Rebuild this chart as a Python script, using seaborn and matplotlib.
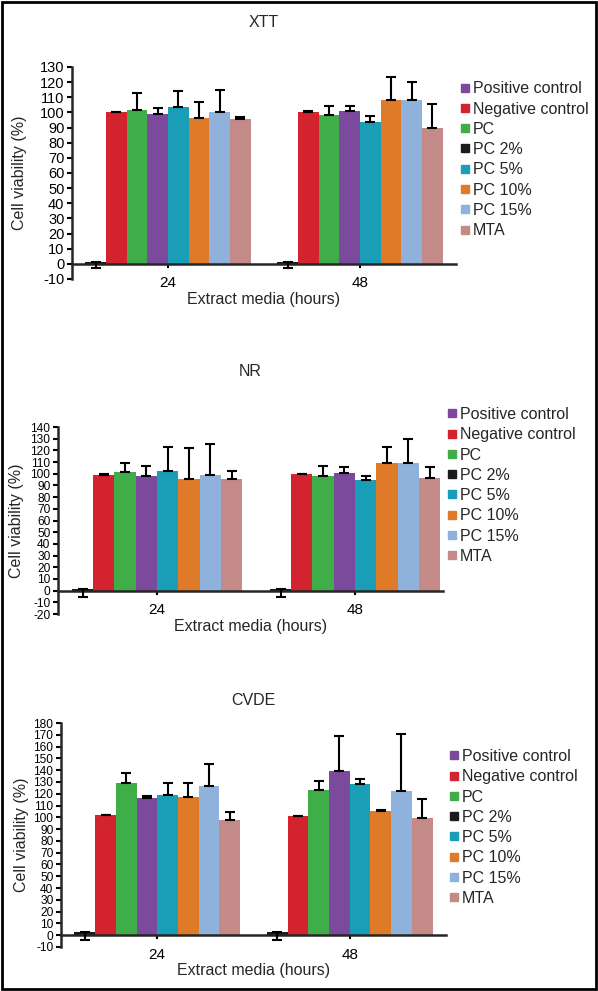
import numpy as np
import pandas as pd
import matplotlib
matplotlib.use("Agg")
import matplotlib.pyplot as plt
from matplotlib.lines import Line2D
import seaborn as sns

# --- data ---
hours = ["24", "48"]
bar_order = ["PC 2%", "Negative control", "PC", "Positive control",
             "PC 5%", "PC 10%", "PC 15%", "MTA"]
legend_order = ["Positive control", "Negative control", "PC", "PC 2%",
                "PC 5%", "PC 10%", "PC 15%", "MTA"]
bar_colors = ["#1b1b1b", "#d2232e", "#3fae49", "#7b4a9c",
              "#1a9db6", "#df7a28", "#8fb2dd", "#c48a88"]

# negative error = error bar drawn downward
xtt_24 = [1.5, 100.1, 101.4, 98.8, 103.4, 96.2, 100.1, 95.5]
xtt_48 = [1.5, 100.4, 98.4, 101.0, 93.8, 108.3, 108.3, 89.8]
xtt_err_24 = [-4.0, 0.4, 11.5, 4.2, 10.5, 11.0, 15.0, 1.8]
xtt_err_48 = [-4.0, 0.3, 5.7, 3.5, 3.7, 15.0, 12.0, 15.6]

nr_24 = [1.5, 99.1, 101.4, 98.3, 102.6, 95.7, 99.1, 95.7]
nr_48 = [1.5, 99.4, 98.3, 100.9, 94.3, 108.9, 108.9, 96.0]
nr_err_24 = [-7.0, 0.3, 8.0, 8.3, 20.3, 26.6, 26.6, 6.6]
nr_err_48 = [-7.0, 0.3, 8.6, 4.5, 3.7, 13.7, 20.5, 9.7]

cvde_24 = [2.5, 101.7, 128.8, 116.1, 118.6, 117.0, 126.3, 97.5]
cvde_48 = [2.5, 101.1, 123.2, 139.3, 128.2, 105.6, 122.3, 99.4]
cvde_err_24 = [-6.5, 0.3, 8.5, 1.7, 10.2, 11.8, 18.6, 6.7]
cvde_err_48 = [-6.5, 0.3, 7.9, 29.7, 4.5, 0.5, 48.0, 15.8]

palette = dict(zip(bar_order, bar_colors))

sns.set_theme(style="ticks")
plt.rcParams["font.family"] = ["Liberation Sans", "DejaVu Sans"]
plt.rcParams["axes.unicode_minus"] = False

fig = plt.figure(figsize=(5.98, 9.91), dpi=100)

# title, v24, v48, e24, e48, ylim, rect, xlim, tick size, title pad, ylabel pad, legend anchor
panels = [
    ("XTT", xtt_24, xtt_48, xtt_err_24, xtt_err_48, (-10, 130),
     [0.1204, 0.7185, 0.6421, 0.2139], (-0.5, 1.5), 10.5, 29, 9, (0.769, 0.918)),
    ("NR", nr_24, nr_48, nr_err_24, nr_err_48, (-20, 140),
     [0.0970, 0.3804, 0.6438, 0.1887], (-0.5, 1.444), 8.6, 37, 5, (0.7475, 0.5893)),
    ("CVDE", cvde_24, cvde_48, cvde_err_24, cvde_err_48, (-10, 180),
     [0.1020, 0.0444, 0.6438, 0.2260], (-0.5, 1.5), 8.6, 13, 3, (0.7508, 0.2442)),
]

for title, v24, v48, e24, e48, ylim, rect, xlim, tsize, tpad, ypad, anchor in panels:
    ax = fig.add_axes(rect)
    df = pd.DataFrame({
        "hours": np.repeat(hours, len(bar_order)),
        "sample": bar_order * 2,
        "value": v24 + v48,
    })
    sns.barplot(data=df, x="hours", y="value", hue="sample", order=hours,
                hue_order=bar_order, palette=palette, width=0.86,
                errorbar=None, legend=False, linewidth=0, saturation=1, ax=ax)

    # bars sorted left to right: 24 h group then 48 h group, each in bar_order
    errs = e24 + e48
    bars = sorted(ax.patches, key=lambda b: b.get_x())
    for bar, e in zip(bars, errs):
        xc = bar.get_x() + bar.get_width() / 2
        ax.errorbar(xc, bar.get_height(),
                    yerr=[[max(-e, 0)], [max(e, 0)]],
                    fmt="none", ecolor="black", elinewidth=1.5,
                    capsize=3.5, capthick=1.5, zorder=3)

    ax.set_xlim(*xlim)
    ax.set_ylim(*ylim)
    ax.set_yticks(np.arange(ylim[0], ylim[1] + 1, 10))
    for s in ["top", "right"]:
        ax.spines[s].set_visible(False)
    ax.spines["bottom"].set_position(("data", 0))
    ax.spines["bottom"].set_linewidth(1.8)
    ax.spines["left"].set_linewidth(1.8)
    ax.tick_params(axis="y", direction="out", length=3.5, width=1.5,
                   pad=2, labelsize=tsize, colors="black")
    ax.tick_params(axis="x", direction="out", length=3, width=1.5,
                   pad=6, labelsize=11, colors="black")

    ax.set_title(title, fontsize=11.5, pad=tpad)
    ax.set_xlabel("Extract media (hours)", fontsize=11.5, labelpad=1)
    ax.set_ylabel("Cell viability (%)", fontsize=11.5, labelpad=ypad)

    handles = [Line2D([], [], marker="s", ls="", color=palette[n], markersize=5.5)
               for n in legend_order]
    ax.legend(handles, legend_order, loc="upper left", bbox_to_anchor=anchor,
              bbox_transform=fig.transFigure, frameon=False, fontsize=11.5,
              borderpad=0, borderaxespad=0, handlelength=0.6,
              handletextpad=0.2, labelspacing=0.33)

fig.add_artist(plt.Rectangle((0.003, 0.002), 0.994, 0.996, transform=fig.transFigure,
                             fill=False, lw=2, ec="black"))

fig.savefig("out.png", dpi=100)
